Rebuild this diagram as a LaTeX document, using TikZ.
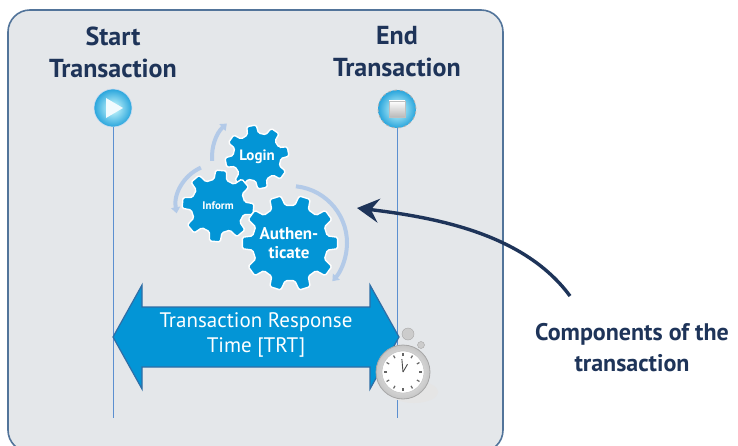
\documentclass[tikz,border=0pt]{standalone}
\usepackage{fontspec}
\setmainfont{PT Sans}
\usetikzlibrary{positioning}
\usetikzlibrary{arrows.meta}
\usepackage{xcolor}

\definecolor{navy}{HTML}{1E3459}
\definecolor{panelgray}{HTML}{E4E7EA}
\definecolor{paneledge}{HTML}{52749A}
\definecolor{hpblue}{HTML}{0395D6}
\definecolor{hpedge}{HTML}{2F6EA6}
\definecolor{pale}{HTML}{B3CAE8}
\definecolor{lineblue}{HTML}{5B8FD0}

% cog: centre, teeth, root radius, tip radius, turn
\newcommand{\cog}[5]{%
  \filldraw[cogbody, shift={#1}, rotate=#5]
    ({-0.3*360/#2}:#3)
    \foreach \k in {0,...,\numexpr#2-1\relax} {
      -- ({(\k-0.19)*360/#2}:#4) -- ({(\k+0.19)*360/#2}:#4)
      -- ({(\k+0.3)*360/#2}:#3) -- ({(\k+0.7)*360/#2}:#3)
    } -- cycle;}

\begin{document}
\begin{tikzpicture}[x=1pt, y=-1pt,
    head/.style={align=center, text=navy, font=\bfseries\fontsize{26}{32}\selectfont},
    cogbody/.style={fill=hpblue, draw=white, line width=1.4pt, rounded corners=1.5pt},
    cogtext/.style={align=center, text=white, font=\bfseries},
    turn/.style={draw=pale, line width=4pt, -{Triangle[length=6pt, width=9pt]}},
    lifeline/.style={draw=lineblue, line width=0.8pt}]
  \clip (0,0) rectangle (738,446);
  \fill[white] (0,0) rectangle (738,446);

  % panel
  \draw[fill=panelgray, draw=paneledge, line width=1.6pt, rounded corners=22pt]
    (8,10) rectangle (503,452);

  % start and end of the transaction
  \node[head] (start) at (113,52) {Start\\Transaction};
  \node[head] (end) at (397,52) {End\\Transaction};

  \node[circle, minimum size=38pt, inner sep=0pt, draw=white!70!lineblue, line width=0.6pt,
        inner color=white!60!cyan!40, outer color=hpblue!85] (play) at (113,108) {};
  \fill[white!95!cyan] (play.center) ++(-7,-10) -- ++(17,10) -- ++(-17,10) -- cycle;
  \node[circle, minimum size=38pt, inner sep=0pt, draw=gray!60, line width=0.8pt, dashed,
        inner color=white!60!cyan!40, outer color=hpblue!85] (stop) at (397,109) {};
  \shade[top color=white, bottom color=gray!55, draw=gray!50] (stop.center) ++(-8,-8) rectangle ++(16,16);

  \coordinate (startfoot) at (113,418);
  \coordinate (endfoot) at (397,418);
  \draw[lifeline] (play) -- (startfoot);
  \draw[lifeline] (stop) -- (endfoot);

  % cogs
  \cog{(257,157)}{8}{24}{32}{10}
  \cog{(218,206)}{8}{27}{36}{-5}
  \cog{(290,243)}{10}{38}{48}{0}
  \node[cogtext, font=\bfseries\fontsize{15}{17}\selectfont] (login) at (257,157) {Login};
  \node[cogtext, font=\bfseries\fontsize{11}{13}\selectfont] (inform) at (218,206) {Inform};
  \node[cogtext, font=\bfseries\fontsize{17}{19}\selectfont] (auth) at (289,243) {Authen-\\ticate};

  \draw[turn] (257,157) ++(175:45) arc[start angle=175, end angle=228, radius=45];
  \draw[turn] (218,206) ++(246:42) arc[start angle=246, end angle=170, radius=42];
  \draw[turn] (290,243) ++(276:57) arc[start angle=276, end angle=402, radius=57];

  % response time arrow
  \fill[hpblue, draw=hpedge, line width=1.2pt]
    (113,337) -- (142,285) -- (142,307) -- (370,307) -- (370,285) -- (399,337)
    -- (370,389) -- (370,367) -- (142,367) -- (142,389) -- cycle;
  \node[align=center, text=white, font=\fontsize{21}{25}\selectfont] (trt) at (256,335)
    {Transaction Response\\Time [TRT]};

  % stopwatch
  \fill[gray!20] (414,392) ellipse [x radius=24, y radius=11];
  \filldraw[fill=gray!40, draw=gray!70] (408,334) circle (6);
  \filldraw[fill=gray!40, draw=gray!70] (421,345) circle (3.5);
  \node[circle, minimum size=54pt, inner sep=0pt, draw=gray!70, line width=0.8pt,
        inner color=white, outer color=gray!45] (watch) at (403,372) {};
  \node[circle, minimum size=42pt, inner sep=0pt, draw=gray!50, fill=white] (dial) at (403,372) {};
  \foreach \a in {0,30,...,330}
    \draw[gray!80!black, line width=1.2pt] (dial.center) ++(\a:16) -- ++(\a:3);
  \draw[black!70, line width=0.9pt] (dial.center) -- ++(-95:13);
  \draw[black!70, line width=0.9pt] (dial.center) -- ++(-60:9);

  % components label and pointer
  \node[align=center, text=navy, font=\bfseries\fontsize{24}{31}\selectfont] (comp) at (632,348)
    {Components of the\\transaction};
  \coordinate (tail) at (570,296);
  \coordinate (aim) at (357,208);
  \draw[navy, line width=3.4pt, -{Stealth[length=22pt, width=24pt, inset=8pt]}]
    (tail) .. controls (525,235) and (440,218) .. (aim);
\end{tikzpicture}
\end{document}
